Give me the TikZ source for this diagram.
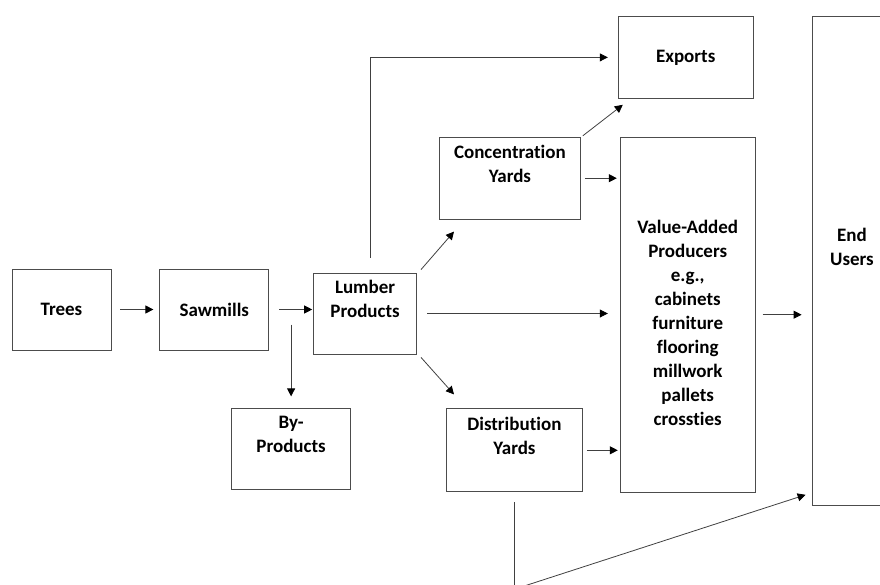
\documentclass[tikz,border=0pt]{standalone}
\usepackage{fontspec}
\setmainfont{Carlito}[Ligatures=NoCommon]
\usetikzlibrary{arrows.meta,positioning}

\begin{document}
\begin{tikzpicture} [
    x=1pt, y=1pt,
    box/.style={rectangle, draw=black!70, line width=0.8pt, align=center, inner sep=2pt, font=\fontsize{19}{24}\selectfont\bfseries},
    twoline/.style={text depth=29pt},
    flow/.style={draw=black!75, line width=0.8pt, -{Triangle[length=8pt,width=8pt,color=black]}},
    ]
    \useasboundingbox (0,0) rectangle (880,-585);
    \clip (0,0) rectangle (880,-585);

    %Nodes
    \node[box, minimum width=99pt, minimum height=81pt]          (trees)   at (61.5,-309.5) {Trees};
    \node[box, minimum width=109pt, minimum height=81pt]         (saw)     [right=48pt of trees] {Sawmills};
    \node[box, twoline, minimum width=103pt, minimum height=81pt] (lumber) [right=44pt of saw, yshift=-4pt] {Lumber\\Products};
    \node[box, twoline, minimum width=119pt, minimum height=81pt] (byprod) [below right=58pt and -38pt of saw] {By-\\Products};
    \node[box, twoline, minimum width=141pt, minimum height=82pt] (conc)   [above right=53pt and 22pt of lumber] {Concentration\\Yards};
    \node[box, twoline, minimum width=136pt, minimum height=83pt] (dist)   [below right=54pt and 29pt of lumber] {Distribution\\Yards};
    \node[box, text height=222pt, minimum width=135pt, minimum height=355pt] (value) [below right=0pt and 39pt of conc.north east]
        {Value-Added\\Producers\\e.g.,\\cabinets\\furniture\\flooring\\millwork\\pallets\\crossties};
    \node[box, minimum width=135pt, minimum height=82pt]         (exports) [above right=38pt and -2pt of value.north west] {Exports};
    \node[box, twoline, minimum width=80pt, minimum height=489pt] (users)  [below right=0pt and 58pt of exports.north east] {End\\Users};
    \coordinate[below=97pt of dist.south] (bend);

    %Lines
    \draw[flow, shorten <=9pt, shorten >=6pt] (trees) -- (saw);
    \draw[flow, shorten <=10pt, shorten >=1pt] (saw.east) -- (saw.east -| lumber.west);
    \draw[flow, shorten <=15pt, shorten >=12pt] (byprod.north |- saw.east) -- (byprod.north);
    \draw[flow, shorten <=15pt, shorten >=10pt] ([xshift=5pt]lumber.north) |- (exports.west);
    \draw[flow] ([shift={(4pt,3pt)}]lumber.north east) -- ([shift={(15pt,-12pt)}]conc.south west);
    \draw[flow, shorten <=10pt, shorten >=12pt] (lumber.east) -- (lumber.east -| value.west);
    \draw[flow] ([shift={(4pt,-3pt)}]lumber.south east) -- ([shift={(8pt,14pt)}]dist.north west);
    \draw[flow] ([shift={(2pt,1pt)}]conc.north east) -- ([shift={(5pt,-6pt)}]exports.south west);
    \draw[flow, shorten <=4pt, shorten >=3pt] (conc.east) -- (conc.east -| value.west);
    \draw[flow, shorten <=4pt, shorten >=2pt] (dist.east) -- (dist.east -| value.west);
    \draw[flow, shorten <=7pt, shorten >=10pt] (value.east) -- (value.east -| users.west);
    \draw[flow, shorten <=10pt] (dist.south) -- (bend) -- ([shift={(-6pt,11pt)}]users.south west);
\end{tikzpicture}
\end{document}
